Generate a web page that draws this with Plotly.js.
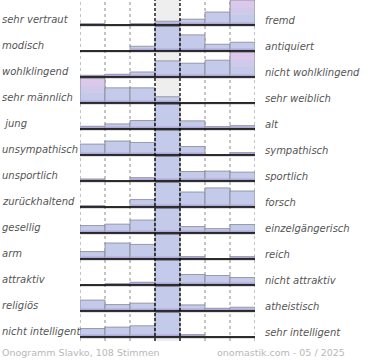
<!DOCTYPE html>
<html>
<head>
<meta charset="utf-8">
<script src="https://cdn.plot.ly/plotly-3.0.1.min.js"></script>
<style>html,body{margin:0;padding:0;background:#fff;}#chart{width:370px;height:360px;}</style>
</head>
<body>
<div id="chart"></div>
<script>
// Left / right poles of each scale
const leftLabels = ["sehr vertraut","modisch","wohlklingend","sehr männlich","\u00a0jung","unsympathisch","unsportlich","zurückhaltend","gesellig","arm","attraktiv","religiös","nicht intelligent"];
const rightLabels = ["fremd","antiquiert","nicht wohlklingend","sehr weiblich","alt","sympathisch","sportlich","forsch","einzelgängerisch","reich","nicht attraktiv","atheistisch","sehr intelligent"];
// Relative share of votes per step (7 steps)
const rowValues = [
  [1.3, 0, 1.3, 3.7, 5.7, 12.7, 24],
  [0, 0, 4.7, 24.3, 16, 6.7, 8.7],
  [1.7, 2.7, 5, 16, 13.7, 16.7, 24.3],
  [24.7, 15.3, 15.3, 6.3, 0, 0.5, 0.5],
  [2.7, 5, 8.3, 24, 8, 2.3, 3.3],
  [10.7, 13.7, 12.3, 24, 8.3, 0, 2.3],
  [2, 0, 3.3, 24, 9.3, 9.7, 8.7],
  [1.3, 0, 7.3, 24, 14.7, 18.7, 15.7],
  [7.3, 8.7, 12.7, 24, 6.3, 4.3, 8.3],
  [7.3, 15.7, 14.3, 24, 2.3, 0, 2.3],
  [0, 1.3, 2.7, 24, 10.3, 9.3, 7.3],
  [10.7, 6.3, 7.7, 24, 6, 2.7, 3.7],
  [8.3, 9.7, 11, 24, 2.3, 0, 0]
];
const steps = [0,1,2,3,4,5,6];
const footerLeft = "Onogramm Slavko, 108 Stimmen";
const footerRight = "onomastik.com - 05 / 2025";

const ROW_H = 26, FIRST = 25, MAXH = 24.5, PLOT_H = 341;
const baseline = i => -(FIRST + ROW_H * i);

const xs = [], hs = [], bs = [], band = [], pinkY = [], pinkB = [], pink2Y = [], pink2B = [];
rowValues.forEach((row, i) => {
  const mx = Math.max(...row);
  row.forEach((v, j) => {
    const h = v / mx * MAXH;
    xs.push(steps[j]); hs.push(h); bs.push(baseline(i));
    band.push(Math.min(h, 2.5));
    const isPink = j !== 3 && h > 20;
    pinkY.push(isPink ? h - 10 : 0); pinkB.push(baseline(i) + (isPink ? 10 : 0));
    pink2Y.push(isPink ? h - 17 : 0); pink2B.push(baseline(i) + (isPink ? 17 : 0));
  });
});

const traces = [
  {type:'bar', x:xs, y:hs, base:bs, width:1, hoverinfo:'skip',
   marker:{color:'rgb(196,202,233)', line:{color:'rgba(130,130,140,0.75)', width:1}}},
  {type:'bar', x:xs, y:pinkY, base:pinkB, width:0.92, hoverinfo:'skip',
   marker:{color:'rgba(222,200,234,0.45)', line:{width:0}}},
  {type:'bar', x:xs, y:pink2Y, base:pink2B, width:0.92, hoverinfo:'skip',
   marker:{color:'rgba(226,200,234,0.6)', line:{width:0}}},
  {type:'bar', x:xs, y:band, base:bs, width:0.92, hoverinfo:'skip',
   marker:{color:'rgba(150,128,196,0.45)', line:{width:0}}}
];

const shapes = [];
shapes.push({type:'rect', xref:'x', yref:'paper', x0:2.5, x1:3.5, y0:0, y1:1, fillcolor:'#eeeeee', line:{width:0}, layer:'below'});
[-0.5, 0.5, 1.5, 4.5, 5.5, 6.5].forEach(x => shapes.push({type:'line', xref:'x', yref:'paper', x0:x, x1:x, y0:0, y1:1, line:{color:'#8a8a8a', width:1, dash:'dot'}, layer:'below'}));
rowValues.forEach((r, i) => {
  shapes.push({type:'line', xref:'x', yref:'y', x0:-0.5, x1:6.5, y0:baseline(i)-1.2, y1:baseline(i)-1.2, line:{color:'rgba(0,0,0,0.18)', width:1}, layer:'above'});
  shapes.push({type:'line', xref:'x', yref:'y', x0:-0.5, x1:6.5, y0:baseline(i), y1:baseline(i), line:{color:'#000', width:1.6}, layer:'above'});
});
[2.5, 3.5].forEach(x => shapes.push({type:'line', xref:'x', yref:'paper', x0:x, x1:x, y0:0, y1:1, line:{color:'#000', width:1.3, dash:'3px,2px'}, layer:'above'}));

const PW = 175;
const annotations = [];
const lf = {family:'DejaVu Sans, sans-serif', size:10, color:'#555'};
leftLabels.forEach((t, i) => annotations.push({xref:'paper', yref:'y', x:-80/PW, y:baseline(i)+5.5, xanchor:'left', yanchor:'middle', text:'<i>'+t+'</i>', showarrow:false, font:lf}));
rightLabels.forEach((t, i) => annotations.push({xref:'paper', yref:'y', x:(263-80)/PW, y:baseline(i)+4.5, xanchor:'left', yanchor:'middle', text:'<i>'+t+'</i>', showarrow:false, font:lf}));
const ff = {family:'DejaVu Sans, sans-serif', size:9.5, color:'#b8b8b8'};
annotations.push({xref:'paper', yref:'paper', x:-80/PW, y:(PLOT_H-352.5)/PLOT_H, xanchor:'left', yanchor:'middle', text:footerLeft, showarrow:false, font:ff});
annotations.push({xref:'paper', yref:'paper', x:(347-80)/PW, y:(PLOT_H-352.5)/PLOT_H, xanchor:'right', yanchor:'middle', text:footerRight, showarrow:false, font:ff});

const layout = {
  width:370, height:360, margin:{l:80, r:115, t:0, b:360-PLOT_H, pad:0},
  paper_bgcolor:'#fff', plot_bgcolor:'rgba(0,0,0,0)',
  barmode:'overlay', showlegend:false,
  xaxis:{range:[-0.5,6.5], showgrid:false, zeroline:false, showticklabels:false, ticks:'', fixedrange:true},
  yaxis:{range:[-PLOT_H,0], showgrid:false, zeroline:false, showticklabels:false, ticks:'', fixedrange:true},
  shapes:shapes, annotations:annotations
};
Plotly.newPlot('chart', traces, layout, {staticPlot:true, displayModeBar:false});
</script>
</body>
</html>
